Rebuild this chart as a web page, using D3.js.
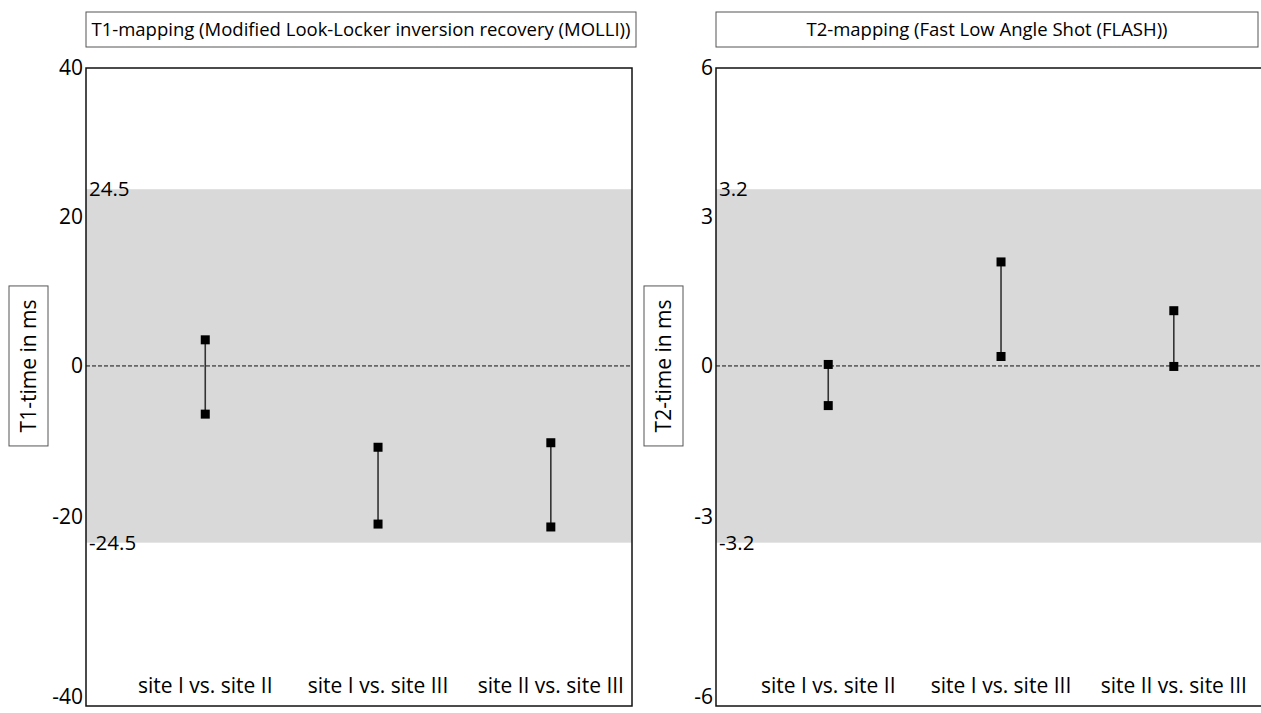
<!DOCTYPE html>
<html>
<head>
<meta charset="utf-8">
<script src="https://cdn.jsdelivr.net/npm/d3@7"></script>
<style>
  body { margin: 0; background: #fff; }
  svg { display: block; font-family: "Open Sans", "Noto Sans", sans-serif; }
</style>
</head>
<body>
<div id="chart"></div>
<script>
// comparisons between sites (x categories, same in both panels)
var categories = ["site I vs. site II", "site I vs. site III", "site II vs. site III"];

// T1 (MOLLI) - upper and lower end of each interval, ms
var t1_upper = [3.5, -10.8, -10.2];
var t1_lower = [-6.4, -21.3, -21.8];
var t1_ticks = [-40, -20, 0, 20, 40];
var t1_limits = [-24.5, 24.5];

// T2 (FLASH) - upper and lower end of each interval, ms
var t2_upper = [0.03, 2.09, 1.11];
var t2_lower = [-0.79, 0.19, -0.01];
var t2_ticks = [-6, -3, 0, 3, 6];
var t2_limits = [-3.2, 3.2];

var width = 1261, height = 713;

var svg = d3.select("#chart").append("svg")
    .attr("width", width)
    .attr("height", height);

// the original figure's y axis is not evenly spaced; these are the
// relative heights (0 = top) where the ticks / limit lines sit
var y_stops = [1, 0.744, 0.703, 0.467, 0.233, 0.19, 0];

function draw_panel(cfg) {
    var plot = { left: cfg.left, top: 68, width: 546, height: 638 };

    var g = svg.append("g")
        .attr("transform", "translate(" + plot.left + "," + plot.top + ")");

    var x = d3.scalePoint()
        .domain(categories)
        .range([0, plot.width])
        .padding(0.58)
        .align(cfg.align);

    // knots = ticks + limits of agreement, sorted
    var knots = cfg.ticks.concat(cfg.limits).sort(d3.ascending);
    var y = d3.scaleLinear()
        .domain(knots)
        .range(y_stops.map(function(f) { return f * plot.height; }));

    // limits of agreement band
    g.append("rect")
        .attr("x", 0)
        .attr("y", y(cfg.limits[1]))
        .attr("width", plot.width)
        .attr("height", y(cfg.limits[0]) - y(cfg.limits[1]))
        .attr("fill", "#d9d9d9");

    // zero line
    g.append("line")
        .attr("x1", 0)
        .attr("x2", plot.width)
        .attr("y1", y(0))
        .attr("y2", y(0))
        .attr("stroke", "#111")
        .attr("stroke-width", 1)
        .attr("stroke-dasharray", "4,2");

    // limit labels sitting on the band edges
    g.selectAll("text.limit")
        .data(cfg.limits)
        .enter().append("text")
        .attr("class", "limit")
        .attr("x", 3)
        .attr("y", function(d) { return y(d); })
        .attr("dy", "0.35em")
        .attr("font-size", 20.5)
        .attr("fill", "#000")
        .text(function(d) { return d; });

    // y axis
    var y_axis = g.append("g")
        .call(d3.axisLeft(y).tickValues(cfg.ticks).tickSize(0).tickPadding(3)
            .tickFormat(function(d) { return d; }));
    y_axis.select(".domain").remove();
    y_axis.selectAll("text")
        .attr("font-size", 21)
        .attr("font-family", "\"Open Sans\", sans-serif")
        .attr("fill", "#000")
        .attr("dy", function(d) { return d === cfg.ticks[0] ? "-0.12em" : "0.32em"; });

    // intervals
    var rows = categories.map(function(c, i) {
        return { cat: c, hi: cfg.upper[i], lo: cfg.lower[i] };
    });

    g.selectAll("line.ci")
        .data(rows)
        .enter().append("line")
        .attr("class", "ci")
        .attr("x1", function(d) { return x(d.cat); })
        .attr("x2", function(d) { return x(d.cat); })
        .attr("y1", function(d) { return y(d.hi); })
        .attr("y2", function(d) { return y(d.lo); })
        .attr("stroke", "#333")
        .attr("stroke-width", 1.6);

    var ends = [];
    rows.forEach(function(r) {
        ends.push({ cat: r.cat, v: r.hi });
        ends.push({ cat: r.cat, v: r.lo });
    });
    var m = 9;
    g.selectAll("rect.end")
        .data(ends)
        .enter().append("rect")
        .attr("class", "end")
        .attr("x", function(d) { return x(d.cat) - m / 2; })
        .attr("y", function(d) { return y(d.v) - m / 2; })
        .attr("width", m)
        .attr("height", m)
        .attr("fill", "#000");

    // category labels inside the plot, near the bottom
    g.selectAll("text.cat")
        .data(categories)
        .enter().append("text")
        .attr("class", "cat")
        .attr("x", function(d) { return x(d); })
        .attr("y", plot.height - 13)
        .attr("text-anchor", "middle")
        .attr("font-size", 21)
        .attr("fill", "#000")
        .text(function(d) { return d; });

    // frame
    g.append("rect")
        .attr("width", plot.width)
        .attr("height", plot.height)
        .attr("fill", "none")
        .attr("stroke", "#111")
        .attr("stroke-width", 1.5);

    // title box
    var tg = svg.append("g")
        .attr("transform", "translate(" + plot.left + ",12)");
    tg.append("rect")
        .attr("width", cfg.title_width)
        .attr("height", 35)
        .attr("fill", "#fff")
        .attr("stroke", "#555")
        .attr("stroke-width", 1);
    tg.append("text")
        .attr("x", cfg.title_width / 2)
        .attr("y", 18)
        .attr("dy", "0.35em")
        .attr("text-anchor", "middle")
        .attr("font-size", 18.5)
        .attr("fill", "#000")
        .text(cfg.title);

    // y axis title in a box
    var cy = plot.top + y(0);
    var lg = svg.append("g")
        .attr("transform", "translate(" + cfg.label_x + "," + cy + ")");
    lg.append("rect")
        .attr("x", -19.5)
        .attr("y", -80)
        .attr("width", 39)
        .attr("height", 160)
        .attr("fill", "#fff")
        .attr("stroke", "#555")
        .attr("stroke-width", 1);
    lg.append("text")
        .attr("transform", "rotate(-90)")
        .attr("dy", "0.35em")
        .attr("text-anchor", "middle")
        .attr("font-size", 21)
        .attr("fill", "#000")
        .text(cfg.y_label);
}

draw_panel({
    left: 86, align: 0.595, label_x: 28.5, title_width: 550,
    title: "T1-mapping (Modified Look-Locker inversion recovery (MOLLI))",
    y_label: "T1-time in ms",
    upper: t1_upper, lower: t1_lower, ticks: t1_ticks, limits: t1_limits
});

draw_panel({
    left: 716, align: 0.56, label_x: 663.5, title_width: 542,
    title: "T2-mapping (Fast Low Angle Shot (FLASH))",
    y_label: "T2-time in ms",
    upper: t2_upper, lower: t2_lower, ticks: t2_ticks, limits: t2_limits
});
</script>
</body>
</html>
